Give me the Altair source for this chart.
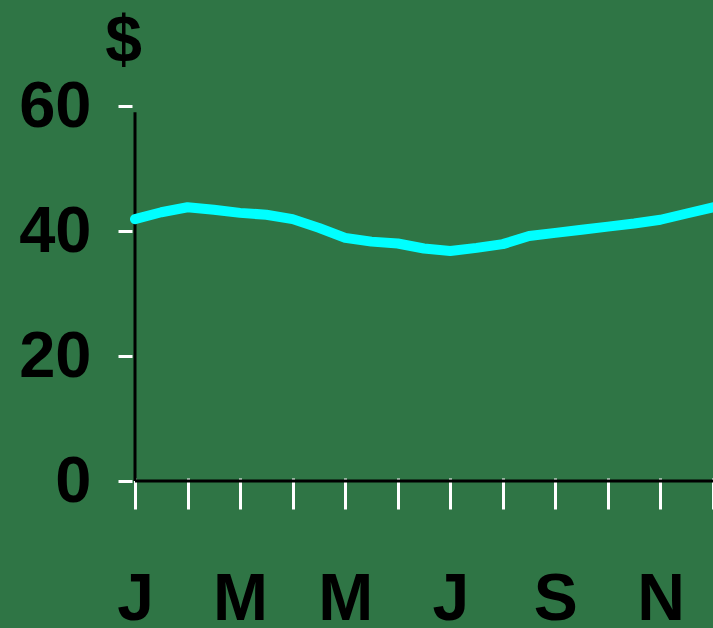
import altair as alt
import pandas as pd

# month positions (1 = Jan ... 12 = Dec), sampled every half month
month_pos = [1.0, 1.5, 2.0, 2.5, 3.0, 3.5, 4.0, 4.5, 5.0, 5.5, 6.0, 6.5,
             7.0, 7.5, 8.0, 8.5, 9.0, 9.5, 10.0, 10.5, 11.0, 11.5, 12.0]
price = [41.9, 43.0, 43.8, 43.4, 42.9, 42.6, 41.9, 40.5, 38.9, 38.3, 38.0, 37.2,
         36.8, 37.3, 37.9, 39.2, 39.7, 40.2, 40.7, 41.2, 41.8, 42.8, 43.8]
month_letters = ["J", "F", "M", "A", "M", "J", "J", "A", "S", "O", "N", "D"]
month_ticks = list(range(1, 13))
y_ticks = [0, 20, 40, 60]

df = pd.DataFrame({"month": month_pos, "price": price})

FONT = "Liberation Sans"
letters_js = "[" + ",".join("'%s'" % m for m in month_letters) + "]"
label_expr = "datum.value % 2 == 1 ? " + letters_js + "[datum.value - 1] : ''"

x_scale = alt.Scale(domain=[1, 12], nice=False, zero=False)
y_scale = alt.Scale(domain=[0, 60], nice=False)

line = alt.Chart(df).mark_line(
    color="#00FFFF", strokeWidth=10, strokeCap="round", strokeJoin="round", clip=False
).encode(
    x=alt.X("month:Q", scale=x_scale,
            axis=alt.Axis(values=month_ticks, labelExpr=label_expr, title=None,
                          domain=False, grid=False, offset=-3,
                          tickColor="white", tickWidth=3, tickSize=31,
                          labelFont=FONT, labelFontWeight="bold", labelFontSize=66,
                          labelColor="black", labelPadding=58, labelFlush=False,
                          labelOverlap=False, labelBaseline="top")),
    y=alt.Y("price:Q", scale=y_scale,
            axis=alt.Axis(values=y_ticks, title="$", domain=False, grid=False, offset=3,
                          tickColor="white", tickWidth=3, tickSize=14,
                          labelFont=FONT, labelFontWeight="bold", labelFontSize=65,
                          labelColor="black", labelPadding=27, labelBaseline="middle",
                          titleAngle=0, titleX=-9, titleY=-45, titleAlign="center",
                          titleBaseline="alphabetic", titleFont=FONT,
                          titleFontWeight="bold", titleFontSize=66, titleColor="black")),
)

x_axis_line = alt.Chart().mark_rule(color="black", strokeWidth=3).encode(
    x=alt.datum(1, scale=x_scale), x2=alt.datum(12), y=alt.datum(0)
)
y_axis_line = alt.Chart().mark_rule(color="black", strokeWidth=3).encode(
    x=alt.datum(1), y=alt.datum(0), y2=alt.datum(59)
)

chart = alt.layer(x_axis_line, y_axis_line, line).properties(
    width=578, height=375,
    padding={"left": 135, "top": 106, "right": 0, "bottom": 147},
    autosize=alt.AutoSizeParams(type="none"),
).configure(background="#2F7545").configure_view(strokeWidth=0)

chart.save("out.html", embed_options={"renderer": "svg", "actions": False})
